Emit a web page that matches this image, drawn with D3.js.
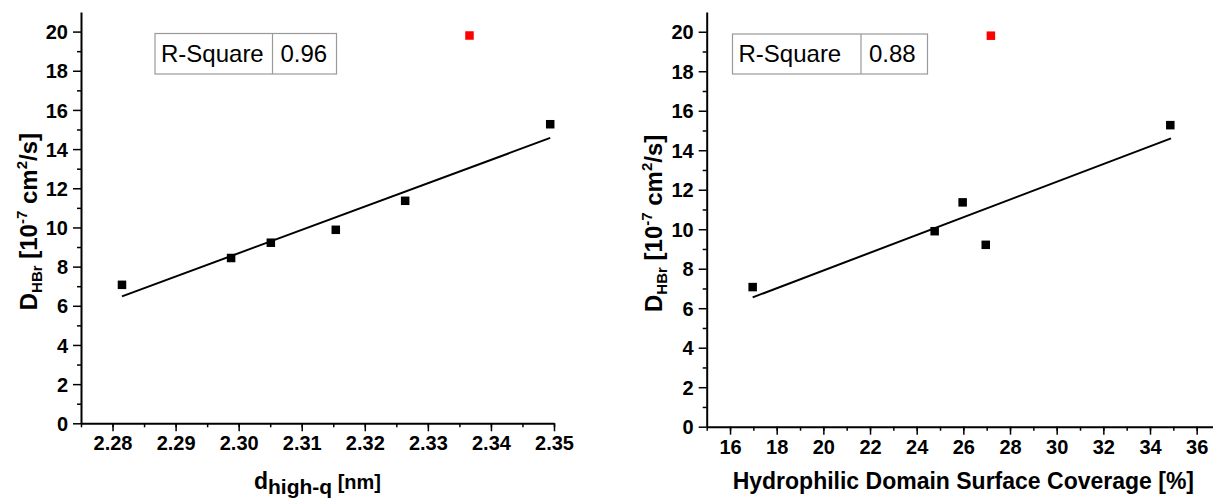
<!DOCTYPE html>
<html>
<head>
<meta charset="utf-8">
<script src="https://cdn.jsdelivr.net/npm/d3@7"></script>
<style>
  body { margin: 0; background: #fff; }
  svg { display: block; font-family: "Liberation Sans", Arial, sans-serif; }
</style>
</head>
<body>
<div id="chart"></div>
<script>
// left panel: D vs d(high-q)
const leftX = [2.2815, 2.2988, 2.3051, 2.3154, 2.3264, 2.3494];
const leftY = [7.07, 8.44, 9.22, 9.88, 11.36, 15.27];
const leftOutX = [2.3366];
const leftOutY = [19.8];
const leftFitX = [2.2815, 2.3494];
const leftFitY = [6.48, 14.57];
const leftTicks = [2.28, 2.29, 2.30, 2.31, 2.32, 2.33, 2.34, 2.35];

// right panel: D vs hydrophilic surface coverage
const rightX = [16.97, 24.77, 25.97, 26.96, 34.87];
const rightY = [7.07, 9.9, 11.36, 9.21, 15.27];
const rightOutX = [27.18];
const rightOutY = [19.8];
const rightFitX = [16.97, 34.9];
const rightFitY = [6.55, 14.6];
const rightTicks = [16, 18, 20, 22, 24, 26, 28, 30, 32, 34, 36];

const yTicks = [0, 2, 4, 6, 8, 10, 12, 14, 16, 18, 20];
const rSquare = ["0.96", "0.88"];

const W = 1213, H = 498;
const svg = d3.select("#chart").append("svg")
  .attr("width", W).attr("height", H);

const panels = [
  { x: leftX, y: leftY, ox: leftOutX, oy: leftOutY, fx: leftFitX, fy: leftFitY,
    ticks: leftTicks, xdom: [2.275, 2.35], xr: [81, 554], yr: [423.3, 12],
    minor: d3.range(2.275, 2.3501, 0.005), fmt: d3.format(".2f"),
    r2: rSquare[0], box: [155, 33.5, 272.5, 336.5, 74], ytx: 37, kind: "d" },
  { x: rightX, y: rightY, ox: rightOutX, oy: rightOutY, fx: rightFitX, fy: rightFitY,
    ticks: rightTicks, xdom: [15, 37], xr: [706.7, 1220], yr: [426.7, 12],
    minor: d3.range(15, 37.01, 1), fmt: d3.format("d"),
    r2: rSquare[1], box: [732.5, 34, 861, 927.5, 74], ytx: 662, kind: "h" }
];

panels.forEach(p => {
  const x = d3.scaleLinear().domain(p.xdom).range(p.xr);
  const y = d3.scaleLinear().domain([0, 21]).range(p.yr);
  const g = svg.append("g");

  // minor ticks
  g.append("g")
    .attr("transform", `translate(0,${p.yr[0]})`)
    .call(d3.axisBottom(x).tickValues(p.minor).tickSize(4).tickFormat(""))
    .call(a => a.select(".domain").remove())
    .selectAll("line").attr("stroke-width", 1.5);
  g.append("g")
    .attr("transform", `translate(${p.xr[0]},0)`)
    .call(d3.axisLeft(y).tickValues(d3.range(1, 21, 2)).tickSize(4).tickFormat(""))
    .call(a => a.select(".domain").remove())
    .selectAll("line").attr("stroke-width", 1.5);

  // major axes
  const xa = g.append("g")
    .attr("transform", `translate(0,${p.yr[0]})`)
    .call(d3.axisBottom(x).tickValues(p.ticks).tickSize(8).tickPadding(5).tickSizeOuter(0).tickFormat(p.fmt));
  const ya = g.append("g")
    .attr("transform", `translate(${p.xr[0]},0)`)
    .call(d3.axisLeft(y).tickValues(yTicks).tickSize(8).tickPadding(5).tickSizeOuter(0));
  [xa, ya].forEach(a => {
    a.select(".domain").attr("stroke-width", 2);
    a.selectAll("line").attr("stroke-width", 1.5);
    a.selectAll("text").attr("font-size", 20).attr("font-weight", "bold")
      .attr("fill", "#000").attr("font-family", "Liberation Sans, Arial, sans-serif");
  });
  ya.selectAll("text").attr("dy", "0.36em");

  // fit line
  const line = d3.line().x(d => x(d[0])).y(d => y(d[1]));
  g.append("path")
    .datum(d3.zip(p.fx, p.fy))
    .attr("d", line)
    .attr("fill", "none").attr("stroke", "#000").attr("stroke-width", 2);

  // points
  const sz = 8.5;
  g.selectAll(".pt").data(d3.zip(p.x, p.y)).join("rect")
    .attr("x", d => x(d[0]) - sz / 2).attr("y", d => y(d[1]) - sz / 2)
    .attr("width", sz).attr("height", sz).attr("fill", "#000");
  g.selectAll(".out").data(d3.zip(p.ox, p.oy)).join("rect")
    .attr("x", d => x(d[0]) - sz / 2).attr("y", d => y(d[1]) - sz / 2)
    .attr("width", sz).attr("height", sz).attr("fill", "#f00");

  // R-square box
  const [bx, by, bd, br, bb] = p.box;
  g.append("rect").attr("x", bx).attr("y", by).attr("width", br - bx).attr("height", bb - by)
    .attr("fill", "#fff").attr("stroke", "#999").attr("stroke-width", 1.2);
  g.append("line").attr("x1", bd).attr("x2", bd).attr("y1", by).attr("y2", bb)
    .attr("stroke", "#999").attr("stroke-width", 1.2);
  g.append("text").attr("x", bx + 6).attr("y", by + 28)
    .attr("font-size", 24).text("R-Square");
  g.append("text").attr("x", bd + 8).attr("y", by + 28)
    .attr("font-size", 24).text(p.r2);

  // y title
  const yt = g.append("text")
    .attr("transform", `translate(${p.ytx},${(p.yr[0] + p.yr[1]) / 2 + 4}) rotate(-90)`)
    .attr("text-anchor", "middle").attr("font-weight", "bold").attr("font-size", 24);
  yt.append("tspan").text("D");
  yt.append("tspan").attr("font-size", 15).attr("dy", 5).text("HBr");
  yt.append("tspan").attr("dy", -5).text(" [10");
  yt.append("tspan").attr("font-size", 15).attr("dy", -10).text("-7");
  yt.append("tspan").attr("dy", 10).text(" cm");
  yt.append("tspan").attr("font-size", 15).attr("dy", -10).text("2");
  yt.append("tspan").attr("dy", 10).text("/s]");

  // x title
  const xc = (p.xr[0] + Math.min(p.xr[1], 1220)) / 2;
  const xt = g.append("text")
    .attr("x", xc).attr("y", 489)
    .attr("text-anchor", "middle").attr("font-weight", "bold").attr("font-size", 23);
  if (p.kind === "d") {
    xt.append("tspan").attr("font-size", 23).text("d");
    xt.append("tspan").attr("font-size", 21).attr("dy", 5).text("high-q");
    xt.append("tspan").attr("font-size", 20).attr("dy", -5).text(" [nm]");
  } else {
    xt.text("Hydrophilic Domain Surface Coverage [%]");
  }
});
</script>
</body>
</html>
